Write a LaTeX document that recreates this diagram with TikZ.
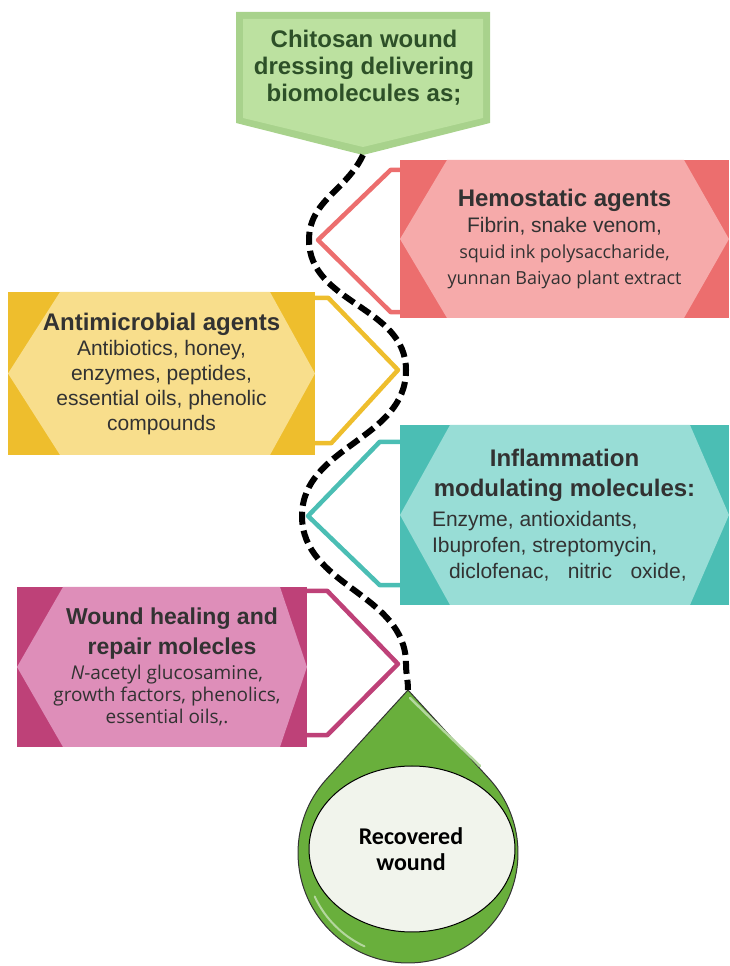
\documentclass[tikz,border=0pt]{standalone}
\usepackage{fontspec}
\setmainfont{Liberation Sans}
\newfontfamily\calibri{Carlito}
\newfontfamily\segoe{Open Sans}
\usepackage{xcolor}
\definecolor{dressgreen}{RGB}{168,210,140}
\definecolor{dresslight}{RGB}{188,225,160}
\definecolor{dresstext}{RGB}{45,80,40}
\definecolor{hemored}{RGB}{236,110,110}
\definecolor{hemolight}{RGB}{246,170,170}
\definecolor{microyellow}{RGB}{238,190,45}
\definecolor{microlight}{RGB}{248,222,140}
\definecolor{inflamteal}{RGB}{75,190,180}
\definecolor{inflamlight}{RGB}{152,221,214}
\definecolor{repairpink}{RGB}{190,65,120}
\definecolor{repairlight}{RGB}{222,142,185}
\definecolor{dropgreen}{RGB}{105,175,60}
\definecolor{woundwhite}{RGB}{241,244,236}
\definecolor{textgrey}{RGB}{50,50,50}

\tikzset{
  hexbox/.style n args={4}{fill=#1, inner sep=0pt, align=center, text=textgrey,
    path picture={\fill[#2] ([xshift=#3]path picture bounding box.north west)
      -- ([xshift=-#4]path picture bounding box.north east)
      -- (path picture bounding box.east)
      -- ([xshift=-#4]path picture bounding box.south east)
      -- ([xshift=#3]path picture bounding box.south west)
      -- (path picture bounding box.west) -- cycle;}},
  link/.style={draw=#1, line width=4.5pt, line join=round},
  wave/.style={black, line width=6pt, dash pattern=on 13pt off 6pt}
}

\begin{document}
\begin{tikzpicture}[x=1pt, y=1pt]
            \useasboundingbox (0,0) rectangle (729,966);

            % Dressing arrow at the top
            \fill[dressgreen] (236,954) -- (490,954) -- (490,843) -- (363,811) -- (236,843) -- cycle;
            \fill[dresslight] (243,947) -- (483,947) -- (483,848) -- (363,819) -- (243,848) -- cycle;
            \coordinate (dresstip) at (363,811);
            \node[align=center, text=dresstext, font=\fontsize{24}{27}\selectfont\bfseries] (dressing) at (364,898)
                {Chitosan wound\\dressing delivering\\biomolecules as;};

            % Hemostatic box
            \node[hexbox={hemored}{hemolight}{47pt}{45pt}, minimum width=329pt, minimum height=158pt,
                font=\fontsize{21}{26}\selectfont] (hemo) at (564.5,727)
                {{\fontsize{24}{28}\selectfont\bfseries Hemostatic agents}\\
                 Fibrin, snake venom,\\
                 {\segoe\fontsize{18}{26}\selectfont squid ink polysaccharide,}\\
                 {\segoe\fontsize{18}{26}\selectfont yunnan Baiyao plant extract}};

            % Antimicrobial box
            \node[hexbox={microyellow}{microlight}{52pt}{45pt}, minimum width=307pt, minimum height=163pt,
                font=\fontsize{21}{25}\selectfont] (micro) at (161.5,592.5)
                {{\fontsize{24}{28}\selectfont\bfseries Antimicrobial agents}\\
                 Antibiotics, honey,\\
                 enzymes, peptides,\\
                 essential oils, phenolic\\
                 compounds};

            % Inflammation box
            \node[hexbox={inflamteal}{inflamlight}{50pt}{39pt}, minimum width=329pt, minimum height=180pt,
                font=\fontsize{21}{26}\selectfont] (inflam) at (564.5,451)
                {{\fontsize{24}{28}\selectfont\bfseries Inflammation}\\[4pt]
                 {\fontsize{24}{28}\selectfont\bfseries modulating molecules:}\\[4pt]
                 \makebox[265pt][l]{Enzyme, antioxidants,}\\
                 \makebox[265pt][l]{Ibuprofen, streptomycin,}\\
                 \makebox[265pt][l]{\hspace{17pt}diclofenac,\hspace{0.6em} nitric\hspace{0.6em} oxide,}};

            % Wound healing box
            \node[hexbox={repairpink}{repairlight}{46pt}{27pt}, minimum width=290pt, minimum height=160pt,
                font=\segoe\fontsize{19}{22}\selectfont] (repair) at (162,299)
                {{\rmfamily\fontsize{23}{28}\selectfont\bfseries\hspace*{20pt}Wound healing and}\\[8pt]
                 {\rmfamily\fontsize{23}{28}\selectfont\bfseries\hspace*{20pt}repair molecles}\\[3pt]
                 \hspace*{10pt}\textit{N}-acetyl glucosamine,\\
                 \hspace*{10pt}growth factors, phenolics,\\
                 \hspace*{10pt}essential oils,.};

            % Recovered wound drop
            \coordinate (droptip) at (408,276);
            \filldraw[fill=dropgreen, draw=black!80, line width=1pt] (droptip)
                -- ([shift={(137.55:110)}]408,113) arc[start angle=137.55, end angle=402.45, radius=110] -- cycle;
            \draw[white!50!dropgreen, line width=2.5pt, line cap=round] (410,268) -- (480,200);
            \draw[white!50!dropgreen, line width=2pt, line cap=round] ([shift={(205:103)}]408,113) arc[start angle=205, end angle=245, radius=103];
            \filldraw[fill=woundwhite, draw=black, line width=1pt] (412,117) ellipse[x radius=103, y radius=83];
            \node[align=center, font=\calibri\fontsize{24}{26}\selectfont\bfseries] (healed) at (411,117) {Recovered\\wound};

            % Tips of the side connectors
            \coordinate (hemotip) at (318,726);
            \coordinate (microtip) at (398,596);
            \coordinate (inflamtip) at (308,450);
            \coordinate (repairtip) at (398,302);

            % Connectors from the boxes
            \draw[link=hemored] ([yshift=-10pt]hemo.north west) -- ++(-9,0) -- (hemotip)
                -- ([xshift=-9pt,yshift=6pt]hemo.south west) -- ([yshift=6pt]hemo.south west);
            \draw[link=microyellow] ([yshift=-6pt]micro.north east) -- ++(13,0) -- (microtip)
                -- ([xshift=16pt,yshift=12pt]micro.south east) -- ([yshift=12pt]micro.south east);
            \draw[link=inflamteal] ([yshift=-17pt]inflam.north west) -- ++(-20,0) -- (inflamtip)
                -- ([xshift=-20pt,yshift=20pt]inflam.south west) -- ([yshift=20pt]inflam.south west);
            \draw[link=repairpink] ([yshift=-4pt]repair.north east) -- ++(20,0) -- (repairtip)
                -- ([xshift=20pt,yshift=12pt]repair.south east) -- ([yshift=12pt]repair.south east);

            % Dashed path down to the drop
            \coordinate (bend1) at (309,726);
            \coordinate (bend2) at (406,596);
            \coordinate (bend3) at (302,450);
            \coordinate (bend4) at (406,302);
            \draw[wave] (dresstip) to[out=-115,in=90] (bend1) to[out=-90,in=90] (bend2)
                to[out=-90,in=90] (bend3) to[out=-90,in=90] (bend4) to[out=-90,in=90] (droptip);
        \end{tikzpicture}
\end{document}
